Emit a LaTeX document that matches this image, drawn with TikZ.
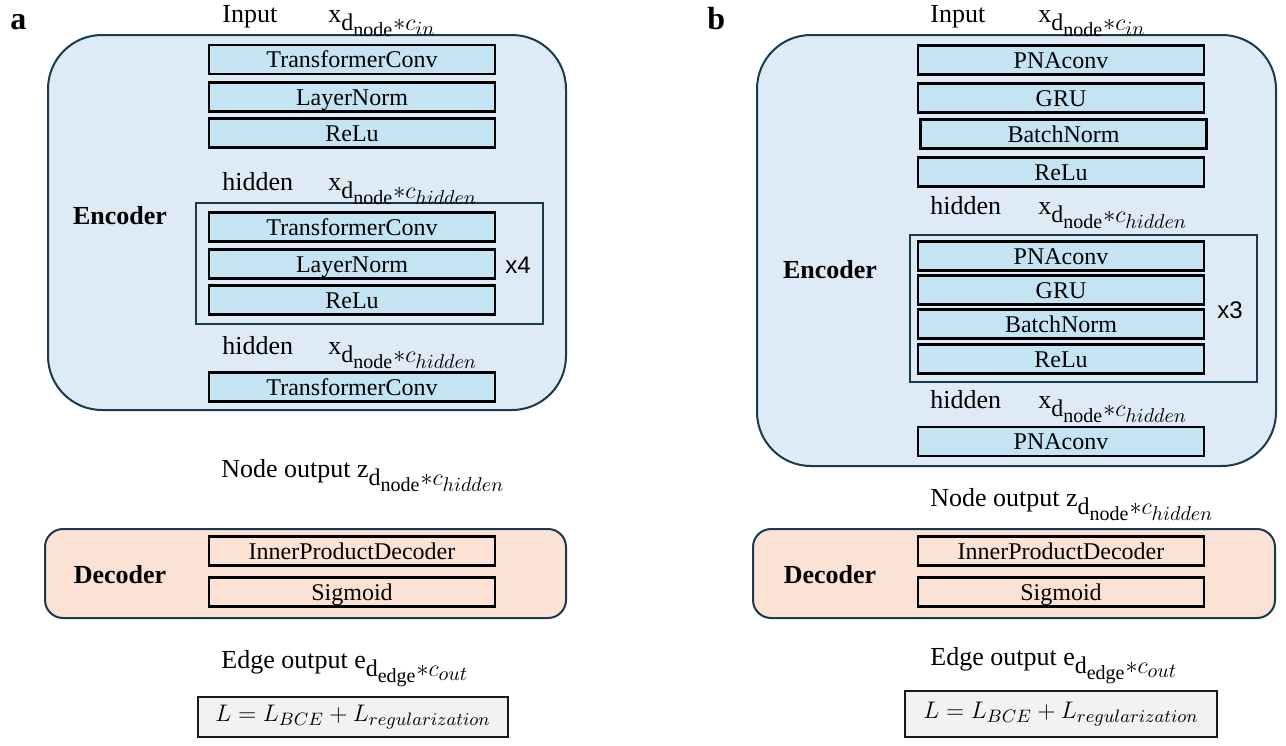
\documentclass[tikz,border=0pt]{standalone}
\usepackage{amsmath}
\usepackage{fontspec}
\setmainfont{Liberation Serif}
\setsansfont{Liberation Sans}
\DeclareMathSizes{13}{13}{12}{10}
\DeclareMathSizes{11.5}{11.5}{8.7}{6.5}
\definecolor{encfill}{HTML}{DEEAF6}
\definecolor{layerblue}{HTML}{C4E4F4}
\definecolor{decfill}{HTML}{FBE2D5}
\definecolor{lossfill}{HTML}{F2F2F2}
\definecolor{navy}{HTML}{1A3A4D}
% feature-dimension label such as x_{d_node * c_hidden}
\newcommand{\dimsub}[3]{#1$_{\text{d}_{\text{#2}}{*}c_{#3}}$}
\begin{document}
\begin{tikzpicture}[x=0.5pt,y=-0.5pt,
  enc/.style={draw=navy, line width=1pt, rounded corners=27pt, fill=encfill, inner sep=0pt},
  dec/.style={draw=navy, line width=1pt, rounded corners=9pt, fill=decfill, inner sep=0pt},
  grp/.style={draw=navy, line width=0.8pt, inner sep=0pt},
  layer/.style={draw=black, line width=1.1pt, fill=layerblue, minimum width=143pt,
    minimum height=14.5pt, inner sep=0pt, text height=8.6pt, text depth=0.4pt,
    font=\rmfamily\fontsize{12}{12}\selectfont},
  declayer/.style={layer, fill=decfill},
  lbl/.style={anchor=base west, inner sep=0pt, font=\rmfamily\fontsize{13}{13}\selectfont},
  blockname/.style={inner sep=0pt, font=\rmfamily\fontsize{13}{13}\selectfont\bfseries},
  rep/.style={inner sep=0pt, font=\sffamily\fontsize{12}{12}\selectfont},
  loss/.style={draw=black!90, line width=1pt, fill=lossfill, inner sep=0pt,
    font=\rmfamily\fontsize{11.5}{12}\selectfont},
  panel/.style={anchor=base west, inner sep=0pt, font=\rmfamily\fontsize{16}{16}\selectfont\bfseries}]
\useasboundingbox (0,0) rectangle (1286,745);

% ---------------- panel a ----------------
\node[panel] (pa) at (10,29) {a};
\node[enc, minimum width=259pt, minimum height=187.5pt] (encA) at (307,222.5) {};
\node[grp, minimum width=173.5pt, minimum height=60.5pt] (grpA) at (369.5,263.5) {};
\node[blockname] (encAname) at (120,216) {Encoder};

\node[lbl] (inA) at (222,22) {Input};
\node[lbl] (inAdim) at (328,22) {\dimsub{x}{node}{in}};
\node[layer] (a1) at (352,59.5) {TransformerConv};
\node[layer] (a2) at (352,97) {LayerNorm};
\node[layer] (a3) at (352,133) {ReLu};
\node[lbl] (hA1) at (222,190) {hidden};
\node[lbl] (hA1dim) at (328,190) {\dimsub{x}{node}{hidden}};
\node[layer] (a4) at (352,227) {TransformerConv};
\node[layer] (a5) at (352,264) {LayerNorm};
\node[layer] (a6) at (352,300) {ReLu};
\node[rep] (repA) at (518,265) {x4};
\node[lbl] (hA2) at (222,354) {hidden};
\node[lbl] (hA2dim) at (328,354) {\dimsub{x}{node}{hidden}};
\node[layer] (a7) at (352,387) {TransformerConv};

\node[lbl] (outA) at (221,477) {Node output \dimsub{z}{node}{hidden}};

\node[dec, minimum width=260.5pt, minimum height=44.5pt] (decA) at (305.5,573.5) {};
\node[blockname] (decAname) at (120,575) {Decoder};
\node[declayer] (a8) at (352,551) {InnerProductDecoder};
\node[declayer] (a9) at (352,592) {Sigmoid};

\node[lbl] (edgeA) at (221,668) {Edge output \dimsub{e}{edge}{out}};
\node[loss, minimum width=155pt, minimum height=20pt] (lossA) at (353,717)
  {$L = L_{BCE} + L_{regularization}$};

% ---------------- panel b ----------------
\node[panel] (pb) at (707,29) {b};
\node[enc, minimum width=259.5pt, minimum height=215.5pt] (encB) at (1016.5,250.5) {};
\node[grp, minimum width=173.5pt, minimum height=73.5pt] (grpB) at (1083.5,308.5) {};
\node[blockname] (encBname) at (830,270) {Encoder};

\node[lbl] (inB) at (930,22) {Input};
\node[lbl] (inBdim) at (1038,22) {\dimsub{x}{node}{in}};
\node[layer] (b1) at (1061,60) {PNAconv};
\node[layer] (b2) at (1061,98) {GRU};
\node[layer] (b3) at (1063.5,134) {BatchNorm};
\node[layer] (b4) at (1061,172) {ReLu};
\node[lbl] (hB1) at (930,214) {hidden};
\node[lbl] (hB1dim) at (1038,214) {\dimsub{x}{node}{hidden}};
\node[layer] (b5) at (1061,256) {PNAconv};
\node[layer] (b6) at (1061,290) {GRU};
\node[layer] (b7) at (1061,324) {BatchNorm};
\node[layer] (b8) at (1061,359) {ReLu};
\node[rep] (repB) at (1230,310) {x3};
\node[lbl] (hB2) at (930,408) {hidden};
\node[lbl] (hB2dim) at (1038,408) {\dimsub{x}{node}{hidden}};
\node[layer] (b9) at (1061,441.5) {PNAconv};

\node[lbl] (outB) at (930,506) {Node output \dimsub{z}{node}{hidden}};

\node[dec, minimum width=261pt, minimum height=44.5pt] (decB) at (1014,573.5) {};
\node[blockname] (decBname) at (830,575) {Decoder};
\node[declayer] (b10) at (1061,551) {InnerProductDecoder};
\node[declayer] (b11) at (1061,592) {Sigmoid};

\node[lbl] (edgeB) at (930,665) {Edge output \dimsub{e}{edge}{out}};
\node[loss, minimum width=156pt, minimum height=23pt] (lossB) at (1061,714)
  {$L = L_{BCE} + L_{regularization}$};
\end{tikzpicture}
\end{document}
